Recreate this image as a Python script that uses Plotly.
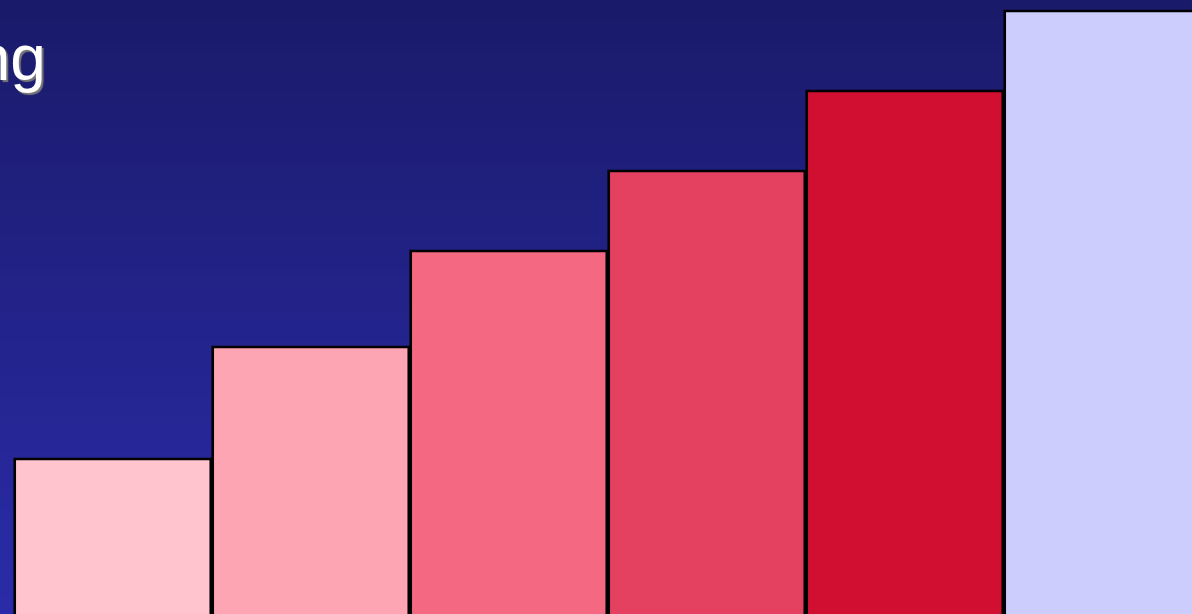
import plotly.graph_objects as go

# ---- data ----
categories = ["A", "B", "C", "D", "E", "F"]
values = [36, 50, 62, 72, 82, 92]
bar_colors = ["#FFC4CE", "#FEA5B3", "#F56882", "#E44160", "#D10F30", "#CDCDFD"]
title_text = "Ranking"

W, H = 1192, 614

fig = go.Figure()
fig.add_trace(go.Bar(
    x=categories,
    y=values,
    width=0.99,
    marker=dict(color=bar_colors, line=dict(color="#000000", width=2.6)),
    hoverinfo="skip",
))

# vertical gradient background built from thin bands
top_rgb = (26, 26, 106)
bot_rgb = (43, 43, 169)
n = 160
shapes = []
for i in range(n):
    t = (i + 0.5) / n
    r = round(top_rgb[0] + (bot_rgb[0] - top_rgb[0]) * t)
    g = round(top_rgb[1] + (bot_rgb[1] - top_rgb[1]) * t)
    b = round(top_rgb[2] + (bot_rgb[2] - top_rgb[2]) * t)
    shapes.append(dict(
        type="rect", xref="paper", yref="paper",
        x0=0, x1=1, y0=1 - (i + 1) / n - 0.002, y1=1 - i / n,
        fillcolor=f"rgb({r},{g},{b})", line=dict(width=0), layer="below",
    ))

pitch = 198.0
c0 = 112.75
xa = -c0 / pitch
xb = xa + W / pitch

px_per_unit = 8.0
base_px = 747.0
y_lo = (base_px - H) / px_per_unit
y_hi = base_px / px_per_unit

fig.update_layout(
    width=W, height=H,
    margin=dict(l=0, r=0, t=0, b=0),
    paper_bgcolor="#22228A",
    plot_bgcolor="rgba(0,0,0,0)",
    showlegend=False,
    shapes=shapes,
    xaxis=dict(range=[xa, xb], visible=False, showgrid=False, zeroline=False),
    yaxis=dict(range=[y_lo, y_hi], visible=False, showgrid=False, zeroline=False),
    annotations=[dict(
        text=title_text, xref="paper", yref="paper",
        x=48 / W, y=1 - 20 / H, xanchor="right", yanchor="top",
        showarrow=False,
        font=dict(family="Liberation Sans, Arial, sans-serif", size=64, color="#FFFFFF",
                  shadow="2px 2px 1px #7a7a7a"),
    )],
)

fig.write_html("out.html")
